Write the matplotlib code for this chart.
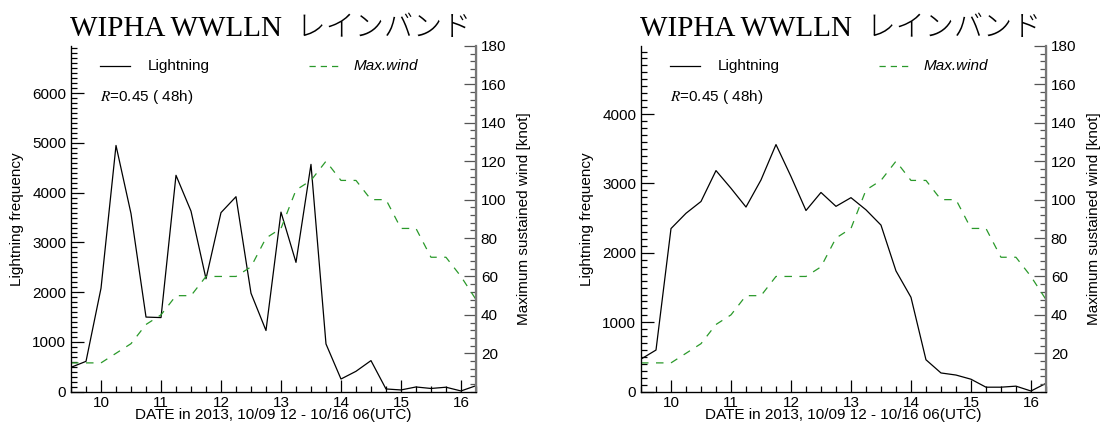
import numpy as np
import matplotlib
matplotlib.use('Agg')
import matplotlib.pyplot as plt
from matplotlib.ticker import MultipleLocator

plt.rcParams['font.family'] = ['Liberation Sans', 'DejaVu Sans']
plt.rcParams['mathtext.fontset'] = 'stix'

# 6-hourly, 10/09 12UTC .. 10/16 06UTC (day-of-month)
days = [9.5, 9.75, 10.0, 10.25, 10.5, 10.75, 11.0, 11.25, 11.5, 11.75,
        12.0, 12.25, 12.5, 12.75, 13.0, 13.25, 13.5, 13.75, 14.0, 14.25,
        14.5, 14.75, 15.0, 15.25, 15.5, 15.75, 16.0, 16.25]

# lightning counts, left panel / right panel
light_left = [490, 610, 2080, 4950, 3580, 1500, 1490, 4350, 3630, 2270,
              3600, 3920, 1980, 1230, 3610, 2600, 4570, 960, 255, 410,
              625, 55, 35, 95, 65, 90, 15, 120]
light_right = [470, 600, 2350, 2570, 2740, 3185, 2930, 2660, 3050, 3560,
               3100, 2610, 2870, 2670, 2795, 2620, 2400, 1740, 1360, 460,
               270, 240, 180, 65, 65, 80, 10, 120]

# maximum sustained wind [knot]
max_wind = [15, 15, 15, 20, 25, 35, 40, 50, 50, 60,
            60, 60, 65, 80, 85, 105, 110, 120, 110, 110,
            100, 100, 85, 85, 70, 70, 60, 48]

title = 'WIPHA WWLLN  レインバンド'
r_text = '$R$=0.45 ( 48h)'
xlabel = 'DATE in 2013, 10/09 12 - 10/16 06(UTC)'

green = '#2a992a'

fig = plt.figure(figsize=(11.01, 4.23), dpi=100)

panels = [
    (0.0645, light_left, 6950),
    (0.5822, light_right, 4980),
]

for left, light, ymax in panels:
    ax = fig.add_axes([left, 0.074, 0.3678, 0.8173])
    ax2 = ax.twinx()

    ax.plot(days, light, color='black', lw=0.9)
    ax2.plot(days, max_wind, color=green, lw=0.9, dashes=(6, 6))

    ax.set_xlim(9.5, 16.25)
    ax.set_ylim(0, ymax)
    ax2.set_ylim(0, 180)

    ax.xaxis.set_major_locator(MultipleLocator(1))
    ax.xaxis.set_minor_locator(MultipleLocator(0.25))
    ax.yaxis.set_major_locator(MultipleLocator(1000))
    ax.yaxis.set_minor_locator(MultipleLocator(100))
    ax2.yaxis.set_major_locator(MultipleLocator(20))
    ax2.yaxis.set_minor_locator(MultipleLocator(4))

    ax.tick_params(which='both', direction='in', top=False, labelsize=11)
    ax.tick_params(axis='x', pad=3)
    ax.tick_params(which='major', length=9, width=0.9)
    ax.tick_params(which='minor', length=4.5, width=0.9)
    ax2.tick_params(which='both', direction='in', labelsize=11, colors='#555555',
                    labelcolor='black')
    ax2.tick_params(which='major', length=9, width=0.9)
    ax2.tick_params(which='minor', length=4.5, width=0.9)

    ax2.set_yticks([20, 40, 60, 80, 100, 120, 140, 160, 180])

    for a in (ax, ax2):
        a.spines['top'].set_visible(False)
    ax2.spines['right'].set_color('#777777')
    ax2.spines['right'].set_linewidth(1.6)
    ax.spines['left'].set_linewidth(0.9)
    ax.spines['bottom'].set_linewidth(0.9)

    ax.set_ylabel('Lightning frequency', fontsize=11, labelpad=6)
    ax2.set_ylabel('Maximum sustained wind [knot]', fontsize=11, labelpad=8)
    ax.set_xlabel(xlabel, fontsize=11, labelpad=-1)

    # legend drawn by hand
    ax.plot([0.072, 0.146], [0.942, 0.942], color='black', lw=0.9,
            transform=ax.transAxes, clip_on=False)
    ax.text(0.19, 0.942, 'Lightning', transform=ax.transAxes, fontsize=11,
            va='center')
    ax.plot([0.587, 0.67], [0.942, 0.942], color=green, lw=0.9, dashes=(5, 4),
            transform=ax.transAxes, clip_on=False)
    ax.text(0.698, 0.942, 'Max.wind', transform=ax.transAxes, fontsize=11,
            va='center', style='italic')
    ax.text(0.072, 0.852, r_text, transform=ax.transAxes, fontsize=11,
            va='center')

    fig.text(left + 0.3678 / 2 - 0.003, 0.915, title, ha='center', va='baseline',
             fontsize=21, weight='light',
             family=['Liberation Serif', 'Noto Sans CJK JP'])

fig.savefig('out.png', dpi=100)
